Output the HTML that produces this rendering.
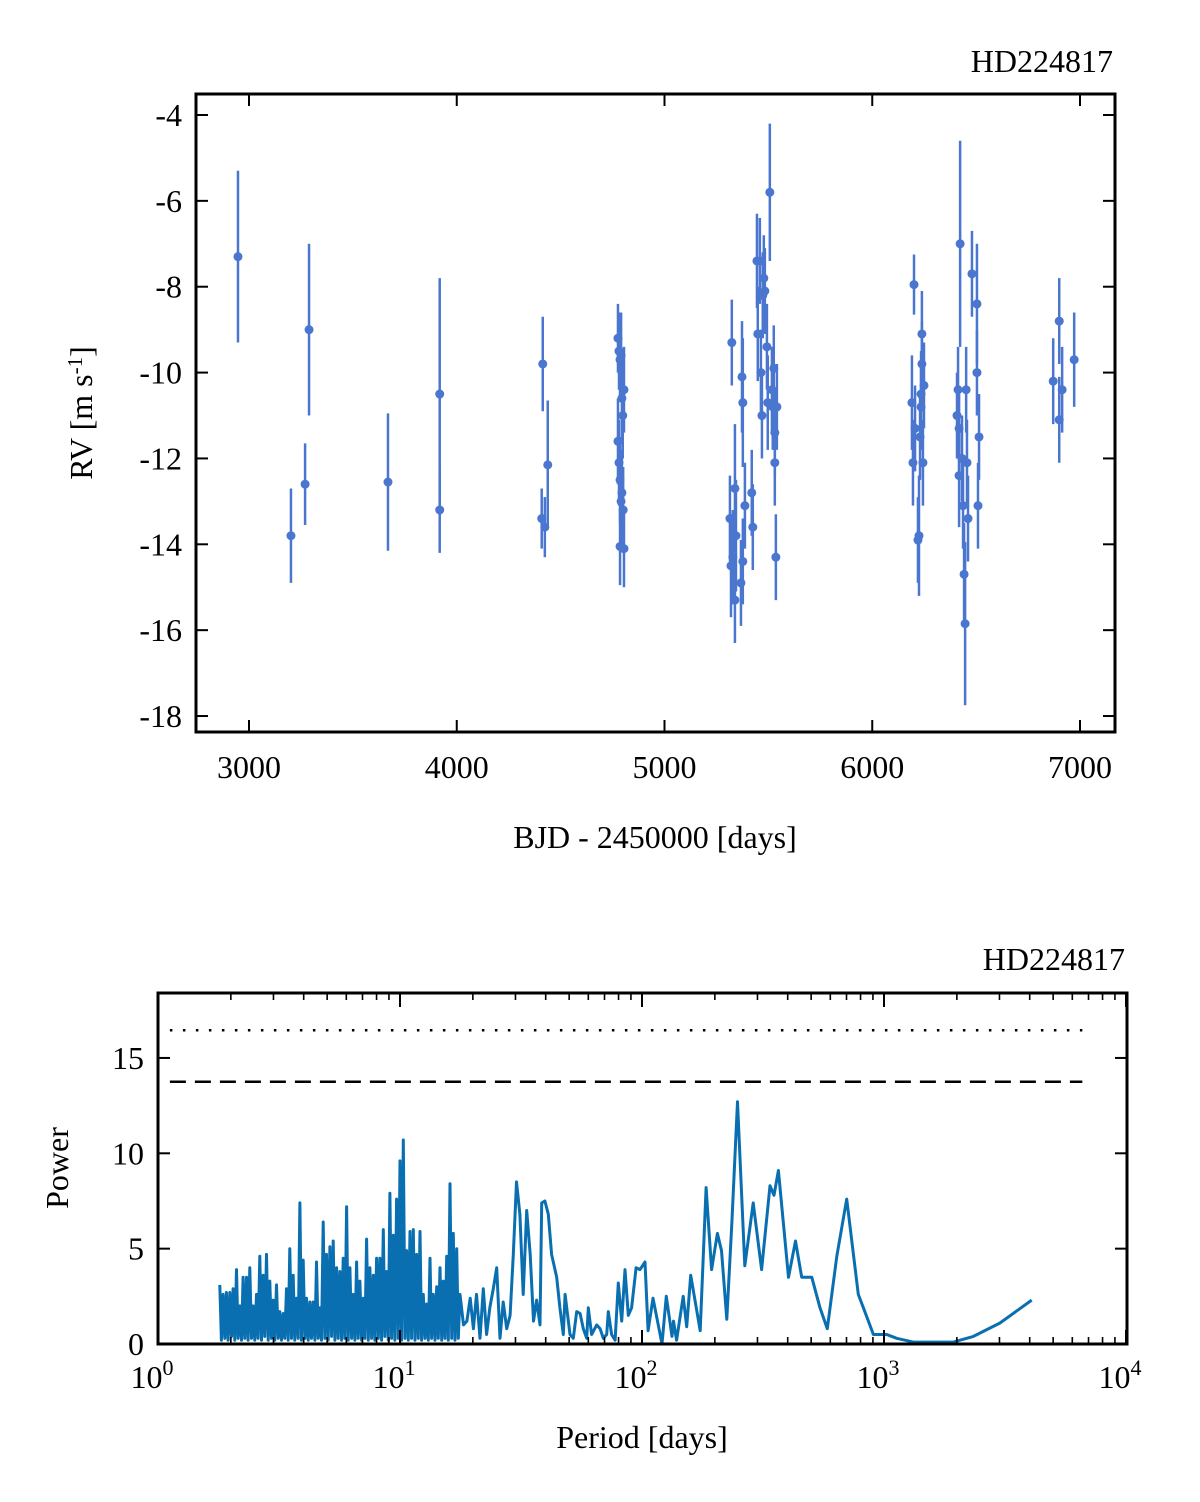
<!DOCTYPE html>
<html><head><meta charset="utf-8"><style>
html,body{margin:0;padding:0;background:#fff;}
svg{display:block;font-family:"Liberation Serif",serif;}
</style></head><body>
<svg id="fig" width="1200" height="1502" viewBox="0 0 1200 1502" xmlns="http://www.w3.org/2000/svg">
<g id="topChart"></g>
<g id="botChart"></g>
<text x="1113" y="72" font-size="32" text-anchor="end">HD224817</text>
<text x="655" y="848" font-size="32" text-anchor="middle">BJD - 2450000 [days]</text>
<text transform="translate(92,413) rotate(-90)" font-size="32" text-anchor="middle">RV [m s<tspan dy="-10" font-size="21">-1</tspan><tspan dy="10">]</tspan></text>
<text x="1125" y="970" font-size="32" text-anchor="end">HD224817</text>
<text x="642" y="1448" font-size="32" text-anchor="middle">Period [days]</text>
<text transform="translate(68,1168) rotate(-90)" font-size="32" text-anchor="middle">Power</text>
</svg>
<script>
// ---- RV data ----
const rvDays = [2947,3202,3270,3289,3669,3918,3918,4409,4414,4424,4438,
4776,4776,4781,4781,4786,4786,4786,4791,4791,4795,4795,4799,4801,4805,4805,
5324,5315,5320,5329,5339,5339,5344,5368,5373,5377,5377,5387,5420,5425,5445,5449,5459,5464,5469,5473,5478,5483,5493,5497,5507,5517,5521,5526,5531,5531,5536,5541,
6191,6201,6206,6196,6220,6225,6230,6235,6239,6244,6249,6239,6235,
6423,6413,6408,6418,6418,6432,6437,6442,6447,6452,6456,6461,6480,6504,6504,6514,6509,
6871,6900,6900,6914,6972];
const rvValues = [-7.3,-13.8,-12.6,-9.0,-12.55,-10.5,-13.2,-13.4,-9.8,-13.6,-12.15,
-9.2,-11.6,-9.5,-12.1,-9.7,-12.5,-14.05,-9.6,-13.0,-10.6,-12.8,-11.0,-13.2,-10.4,-14.1,
-9.3,-13.4,-14.5,-14.3,-12.7,-15.3,-13.8,-14.9,-10.1,-14.4,-10.7,-13.1,-12.8,-13.6,-7.4,-9.1,-7.4,-10.0,-11.0,-8.2,-7.8,-8.1,-9.4,-10.7,-5.8,-10.4,-10.8,-9.9,-11.4,-12.1,-14.3,-10.8,
-10.7,-7.95,-11.3,-12.1,-13.9,-13.8,-11.5,-10.5,-9.1,-12.1,-10.3,-9.8,-10.8,
-7.0,-10.4,-11.0,-11.3,-12.4,-12.0,-13.1,-14.7,-15.85,-10.4,-12.1,-13.4,-7.7,-8.4,-10.0,-11.5,-13.1,
-10.2,-8.8,-11.1,-10.4,-9.7];
const rvErrors = [2.0,1.1,0.95,2.0,1.6,2.7,1.0,0.7,1.1,0.7,1.5,
0.8,1.0,0.9,1.0,0.9,1.0,0.9,1.0,1.0,1.0,1.0,1.0,1.0,1.0,0.9,
1.0,1.0,1.2,1.1,1.5,1.0,1.3,1.0,1.3,1.0,1.5,1.0,1.0,1.0,1.1,1.1,1.0,1.0,1.0,1.0,1.0,1.0,1.0,1.1,1.6,1.0,1.0,1.0,1.0,1.0,1.0,1.0,
1.1,0.7,1.0,1.0,1.0,1.4,1.0,1.0,1.0,1.0,1.0,1.0,1.0,
2.4,1.0,1.0,1.0,1.2,1.0,1.0,1.2,1.9,1.0,1.0,1.0,1.0,1.4,1.0,1.0,1.0,
1.0,1.0,1.0,1.0,1.1];
const rvXTicks = [3000,4000,5000,6000,7000];
const rvYTicks = [-4,-6,-8,-10,-12,-14,-16,-18];

// ---- Periodogram data ----
const denseStartPeriod = 1.80, denseEndPeriod = 17.7; // evaluation grid bounds of dense region
const densePowers = [3.1,0.2,2.6,0.3,2.7,0.2,2.7,0.4,2.9,0.2,3.9,0.3,2.0,0.2,3.5,0.3,3.5,0.2,4.0,0.3,2.0,0.2,2.6,0.3,4.6,0.2,3.6,0.4,4.7,0.2,3.3,0.3,2.3,0.2,3.1,0.3,1.7,0.2,1.6,0.3,2.9,0.2,5.0,0.3,3.6,0.2,2.4,0.3,7.4,0.2,4.4,0.3,2.4,0.2,2.2,0.3,2.2,0.2,4.3,0.3,1.9,0.2,6.4,0.3,4.7,0.2,5.1,0.4,5.4,0.2,4.0,0.3,3.8,0.2,4.5,0.3,7.2,0.2,4.0,0.3,2.6,0.2,4.3,0.3,3.3,0.2,2.4,0.3,5.5,0.2,4.0,0.3,3.6,0.2,4.5,0.3,4.5,0.2,6.0,0.4,3.8,0.2,7.9,0.3,5.7,0.2,7.6,0.3,9.6,0.2,10.7,0.3,4.9,0.2,5.9,0.3,6.0,0.2,4.7,0.3,5.9,0.2,2.6,0.3,2.1,0.2,4.5,0.3,2.6,0.2,3.0,0.3,4.0,0.2,3.3,0.3,4.6,0.2,8.4,0.3,5.8,0.2,5.0,0.3,2.6];
const tailPeriods = [18.3,18.9,19.5,20.1,20.7,21.4,22.1,22.8,23.5,24.3,25.1,25.9,26.7,27.6,28.5,29.4,30.3,31.3,32.3,33.4,34.5,35.6,36.7,37.9,38.5,39.7,41.0,42.3,44.4,45.8,47.3,48.1,50.4,52.0,53.7,55.5,57.2,59.1,60.0,61.9,65.0,67.1,69.2,71.5,72.6,74.9,77.4,79.8,82.4,85.1,87.8,90.6,94.5,98.1,102.9,106,111,121,126,133,135,139,148,153,159,174,184,189,194,205,213,224,235,248,266,288,312,338,351,366,403,431,457,503,544,583,638,701,783,822,904,1026,1128,1322,1934,2340,3015,4075];
const tailPowers = [1.0,1.2,2.4,0.8,2.6,0.3,2.9,0.5,1.9,2.9,4.0,0.3,2.2,0.8,1.5,4.7,8.5,6.8,2.6,7.0,4.7,1.2,2.3,1.0,7.4,7.5,6.8,4.7,3.5,1.9,0.5,2.6,0.5,0.3,1.7,1.6,0.8,0.3,1.9,0.5,1.0,0.8,0.3,0.5,1.7,0.5,0.2,3.2,1.2,3.9,1.5,1.9,4.0,3.9,4.3,0.7,2.4,0.0,2.5,0.4,1.2,0.2,2.5,0.9,3.6,0.7,8.2,6.0,3.9,5.8,4.9,1.3,6.3,12.7,4.1,7.4,3.9,8.3,7.8,9.1,3.5,5.4,3.5,3.5,1.9,0.8,4.6,7.6,2.6,1.9,0.5,0.5,0.3,0.1,0.1,0.4,1.1,2.3];
const fapLevels = [16.45, 13.75];
const pgYTicks = [0,5,10,15];
const pgXDecades = [0,1,2,3,4];

const NS="http://www.w3.org/2000/svg";
function mk(tag, attrs, parent){const e=document.createElementNS(NS,tag);for(const k in attrs)e.setAttribute(k,attrs[k]);parent.appendChild(e);return e;}

// ---- Top chart ----
const gTop=document.getElementById('topChart');
const L1=196,R1=1115,T1=94,B1=732;
const xR=d=>249+(d-3000)*0.20775;
const yR=v=>115+(-4-v)*42.93;
const nPts=Math.min(rvDays.length,rvValues.length);
for(let i=0;i<nPts;i++){
  const x=xR(rvDays[i]);
  const er=(rvErrors[i]!==undefined)?rvErrors[i]:1.0;
  const ln=mk('line',{x1:x,x2:x,y1:yR(rvValues[i]+er),y2:yR(rvValues[i]-er),stroke:'#4a76cf','stroke-width':2.5},gTop);
  
  
  const c=mk('circle',{cx:x,cy:yR(rvValues[i]),r:4.5,fill:'#4a76cf'},gTop);
  
  
}
const fr1=mk('rect',{x:L1,y:T1,width:R1-L1,height:B1-T1,fill:'none',stroke:'#000','stroke-width':3},gTop);


rvXTicks.forEach(t=>{
  const x=xR(t);
  mk('line',{x1:x,x2:x,y1:B1,y2:B1-12,stroke:'#000','stroke-width':2},gTop);
  mk('line',{x1:x,x2:x,y1:T1,y2:T1+12,stroke:'#000','stroke-width':2},gTop);
  const tx=mk('text',{x:x,y:B1+46,'font-size':32,'text-anchor':'middle'},gTop);
  tx.textContent=t;
  
  
});
rvYTicks.forEach(t=>{
  const y=yR(t);
  mk('line',{x1:L1,x2:L1+12,y1:y,y2:y,stroke:'#000','stroke-width':2},gTop);
  mk('line',{x1:R1,x2:R1-12,y1:y,y2:y,stroke:'#000','stroke-width':2},gTop);
  const tx=mk('text',{x:L1-14,y:y+11,'font-size':32,'text-anchor':'end'},gTop);
  tx.textContent=t;
  
  
});

// ---- Periodogram ----
const gBot=document.getElementById('botChart');
const L2=158,R2=1127,T2=993,B2=1344;
const xP=p=>158+Math.log10(p)*242;
const yP=v=>1344-v*19.07;
let pts=[];
const n=densePowers.length;
const l0=Math.log10(denseStartPeriod),l1=Math.log10(denseEndPeriod);
for(let i=0;i<n;i++){const p=Math.pow(10,l0+(l1-l0)*i/(n-1));pts.push(xP(p).toFixed(1)+','+yP(densePowers[i]).toFixed(1));}
const nT=Math.min(tailPeriods.length,tailPowers.length);
for(let i=0;i<nT;i++)pts.push(xP(tailPeriods[i]).toFixed(1)+','+yP(tailPowers[i]).toFixed(1));
const pl=mk('polyline',{points:pts.join(' '),fill:'none',stroke:'#0a6fb0','stroke-width':3,'stroke-linejoin':'round'},gBot);


const fap1=mk('line',{x1:xP(1.12),x2:xP(6600),y1:yP(fapLevels[0]),y2:yP(fapLevels[0]),stroke:'#000','stroke-width':2.5,'stroke-dasharray':'2.5 10.5'},gBot);


const fap2=mk('line',{x1:xP(1.12),x2:xP(6600),y1:yP(fapLevels[1]),y2:yP(fapLevels[1]),stroke:'#000','stroke-width':2.5,'stroke-dasharray':'16 9'},gBot);


const fr2=mk('rect',{x:L2,y:T2,width:R2-L2,height:B2-T2,fill:'none',stroke:'#000','stroke-width':3},gBot);


pgXDecades.forEach(d=>{
  const x=xP(Math.pow(10,d));
  mk('line',{x1:x,x2:x,y1:B2,y2:B2-14,stroke:'#000','stroke-width':2},gBot);
  mk('line',{x1:x,x2:x,y1:T2,y2:T2+14,stroke:'#000','stroke-width':2},gBot);
  const tx=mk('text',{x:x-6,y:B2+44,'font-size':32,'text-anchor':'middle'},gBot);
  tx.textContent='10';
  const sup=mk('tspan',{dy:-13,'font-size':22},tx);
  sup.textContent=String(d);
  
  
  if(d<4){for(let m=2;m<10;m++){const xm=xP(m*Math.pow(10,d));
    mk('line',{x1:xm,x2:xm,y1:B2,y2:B2-7,stroke:'#000','stroke-width':1.6},gBot);
    mk('line',{x1:xm,x2:xm,y1:T2,y2:T2+7,stroke:'#000','stroke-width':1.6},gBot);}}
});
pgYTicks.forEach(t=>{
  const y=yP(t);
  mk('line',{x1:L2,x2:L2+12,y1:y,y2:y,stroke:'#000','stroke-width':2},gBot);
  mk('line',{x1:R2,x2:R2-12,y1:y,y2:y,stroke:'#000','stroke-width':2},gBot);
  const tx=mk('text',{x:L2-14,y:y+11,'font-size':32,'text-anchor':'end'},gBot);
  tx.textContent=t;
  
  
});
</script>
</body></html>
